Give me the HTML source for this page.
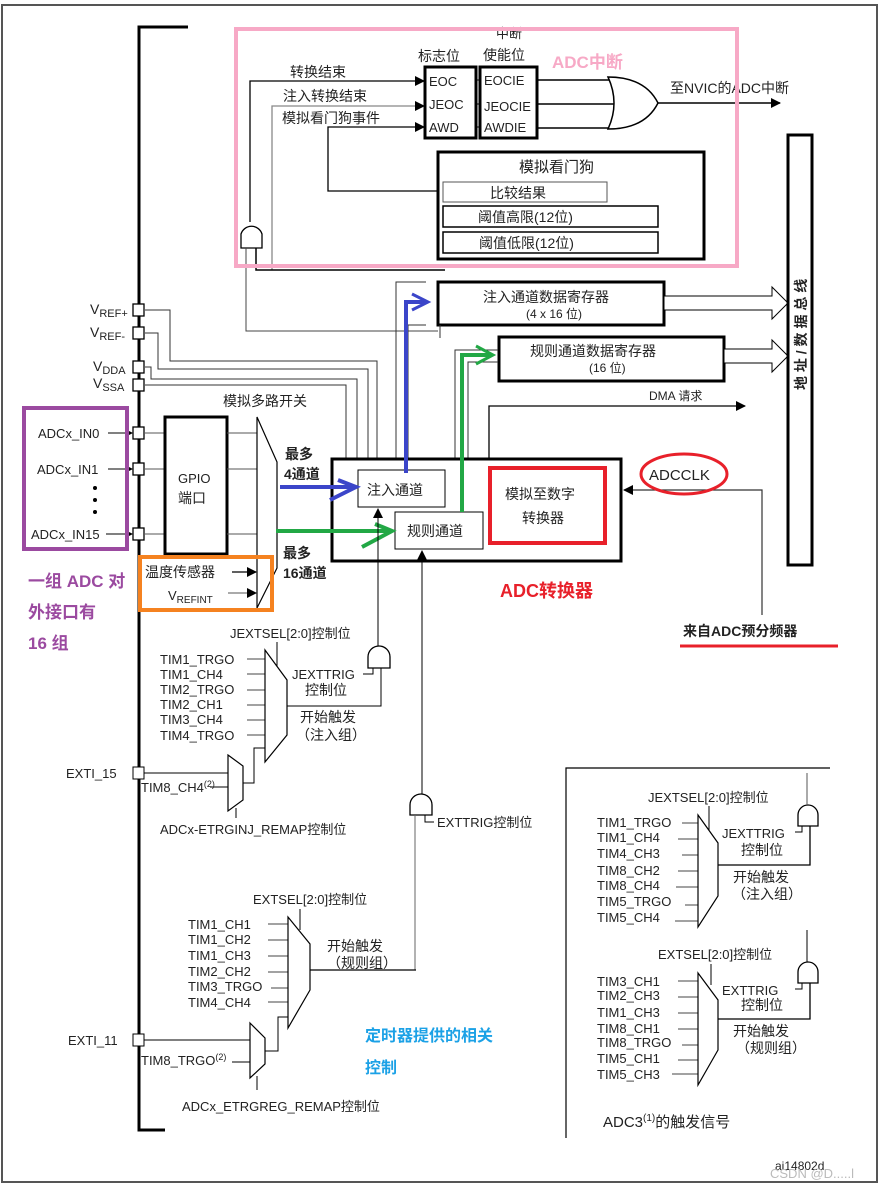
<!DOCTYPE html>
<html><head><meta charset="utf-8"><style>
html,body{margin:0;padding:0;background:#fff}
svg{display:block}
text{font-family:"Liberation Sans","Noto Sans CJK SC",sans-serif;fill:#222}
</style></head><body>
<svg width="880" height="1186" viewBox="0 0 880 1186" xmlns="http://www.w3.org/2000/svg">
<defs>
<marker id="ah" markerWidth="10" markerHeight="10" refX="9" refY="5" orient="auto" markerUnits="userSpaceOnUse"><path d="M0,0 L10,5 L0,10 Z" fill="#000"/></marker>
<marker id="ahs" markerWidth="7" markerHeight="7" refX="6" refY="3.5" orient="auto" markerUnits="userSpaceOnUse"><path d="M0,0 L7,3.5 L0,7 Z" fill="#000"/></marker>
</defs>
<rect x="2" y="5" width="875" height="1177" fill="none" stroke="#555" stroke-width="2"/>

<!-- main bus -->
<path d="M188,27 H139 V1130 H165" fill="none" stroke="#000" stroke-width="3"/>

<!-- interrupt area -->
<rect x="425" y="67" width="51" height="71" fill="#fff" stroke="#000" stroke-width="3"/>
<rect x="480" y="67" width="57" height="71" fill="#fff" stroke="#000" stroke-width="3"/>
<text x="429" y="86" font-size="13">EOC</text>
<text x="429" y="109" font-size="13">JEOC</text>
<text x="429" y="132" font-size="13">AWD</text>
<text x="484" y="85" font-size="13">EOCIE</text>
<text x="484" y="111" font-size="13">JEOCIE</text>
<text x="484" y="132" font-size="13">AWDIE</text>
<path d="M476,80 H480 M476,104 H480 M476,127 H480" stroke="#000"/>
<path d="M537,80 H615 M537,104 H615 M537,128 H612" stroke="#000" stroke-width="1.5"/>
<path d="M608,77 Q645,77 658,103 Q645,129 608,129 Q620,103 608,77 Z" fill="#fff" stroke="#000" stroke-width="1.5"/>
<line x1="658" y1="103" x2="780" y2="103" stroke="#000" stroke-width="1.5" marker-end="url(#ah)"/>
<text x="670" y="93" font-size="14">至NVIC的ADC中断</text>
<text x="418" y="61" font-size="14">标志位</text>
<text x="496" y="38" font-size="13">中断</text>
<text x="483" y="60" font-size="14">使能位</text>

<path d="M250,222 V81 H424" fill="none" stroke="#000" stroke-width="1.3" marker-end="url(#ah)"/>
<path d="M272,270 V106 H424" fill="none" stroke="#888" stroke-width="1.3" marker-end="url(#ah)"/>
<path d="M440,191 H328 V127 H424" fill="none" stroke="#000" stroke-width="1.3" marker-end="url(#ah)"/>
<text x="290" y="77" font-size="14">转换结束</text>
<text x="283" y="101" font-size="14">注入转换结束</text>
<text x="282" y="123" font-size="14">模拟看门狗事件</text>

<rect x="438" y="152" width="266" height="107" fill="#fff" stroke="#000" stroke-width="3"/>
<text x="519" y="172" font-size="15">模拟看门狗</text>
<rect x="443" y="182" width="164" height="20" fill="#fff" stroke="#555"/>
<text x="490" y="198" font-size="14">比较结果</text>
<rect x="443" y="206" width="215" height="21" fill="#fff" stroke="#000" stroke-width="1.5"/>
<text x="478" y="222" font-size="14">阈值高限(12位)</text>
<rect x="443" y="232" width="215" height="21" fill="#fff" stroke="#000" stroke-width="1.5"/>
<text x="479" y="248" font-size="14">阈值低限(12位)</text>

<!-- small AND gate -->
<path d="M241,248 V234 A11,11 0 0 1 262,234 V248 Z" fill="#fff" stroke="#000" stroke-width="1.3"/>
<path d="M246,248 V331 H438" fill="none" stroke="#444"/>
<path d="M256,248 V270 H445" fill="none" stroke="#000" stroke-width="1.5"/>

<rect x="236" y="29" width="501" height="237" fill="none" stroke="#f7a9c6" stroke-width="4"/>
<text x="552" y="68" font-size="17" font-weight="bold" style="fill:#f7a9c6">ADC中断</text>

<!-- data registers -->
<rect x="438" y="282" width="226" height="43" fill="#fff" stroke="#000" stroke-width="3"/>
<text x="483" y="302" font-size="14">注入通道数据寄存器</text>
<text x="526" y="318" font-size="12">(4 x 16 位)</text>
<polygon points="664,296 772,296 772,287 788,303 772,319 772,310 664,310" fill="#fff" stroke="#000"/>
<rect x="499" y="337" width="225" height="44" fill="#fff" stroke="#000" stroke-width="3"/>
<text x="530" y="356" font-size="14">规则通道数据寄存器</text>
<text x="589" y="372" font-size="12">(16 位)</text>
<polygon points="724,349 772,349 772,340 788,356 772,372 772,363 724,363" fill="#fff" stroke="#000"/>
<rect x="788" y="135" width="24" height="430" fill="#fff" stroke="#000" stroke-width="3"/>
<text transform="translate(806,390) rotate(-90)" font-size="14" font-weight="bold">地 址 / 数 据 总 线</text>

<!-- DMA -->
<path d="M489,459 V406 H745" fill="none" stroke="#000" stroke-width="1.3" marker-end="url(#ah)"/>
<text x="649" y="400" font-size="12">DMA 请求</text>

<!-- V pins & wires -->
<g fill="none" stroke="#333" stroke-width="1">
<path d="M145,310 H170 V361 H377 V459"/>
<path d="M145,333 H158 V369 H368 V459"/>
<path d="M145,367 H151 V379 H357 V459"/>
<path d="M145,385 H346 V459"/>
<path d="M426,282 H396 V470"/>
<path d="M426,325 H408 V470"/>
<path d="M498,350 H455 V512"/>
<path d="M498,362 H468 V512"/>
<path d="M440,338 V325"/>
</g>
<g fill="#fff" stroke="#000" stroke-width="1.3">
<rect x="133" y="304" width="11" height="12"/>
<rect x="133" y="327" width="11" height="12"/>
<rect x="133" y="361" width="11" height="12"/>
<rect x="133" y="379" width="11" height="12"/>
<rect x="133" y="427" width="11" height="12"/>
<rect x="133" y="463" width="11" height="12"/>
<rect x="133" y="528" width="11" height="12"/>
</g>
<text x="90" y="314" font-size="14">V<tspan font-size="11" dy="3">REF+</tspan></text>
<text x="90" y="337" font-size="14">V<tspan font-size="11" dy="3">REF-</tspan></text>
<text x="93" y="371" font-size="14">V<tspan font-size="11" dy="3">DDA</tspan></text>
<text x="93" y="388" font-size="14">V<tspan font-size="11" dy="3">SSA</tspan></text>

<!-- inputs -->
<text x="38" y="438" font-size="13">ADCx_IN0</text>
<text x="37" y="474" font-size="13">ADCx_IN1</text>
<text x="31" y="539" font-size="13">ADCx_IN15</text>
<line x1="108" y1="433" x2="132" y2="433" stroke="#000" marker-end="url(#ahs)"/>
<line x1="108" y1="469" x2="132" y2="469" stroke="#000" marker-end="url(#ahs)"/>
<line x1="106" y1="534" x2="132" y2="534" stroke="#000" marker-end="url(#ahs)"/>
<circle cx="95" cy="488" r="2" fill="#000"/><circle cx="95" cy="500" r="2" fill="#000"/><circle cx="95" cy="512" r="2" fill="#000"/>
<path d="M145,433 H165 M145,469 H165 M145,534 H165" stroke="#555"/>
<rect x="165" y="417" width="62" height="137" fill="#fff" stroke="#000" stroke-width="3"/>
<text x="178" y="483" font-size="13">GPIO</text>
<text x="178" y="503" font-size="14">端口</text>
<path d="M227,433 H257 M227,469 H257 M227,534 H257" stroke="#555"/>
<path d="M257,417 L277,462 V568 L257,608 Z" fill="#fff" stroke="#000" stroke-width="1.2"/>
<text x="223" y="406" font-size="14">模拟多路开关</text>
<text x="285" y="459" font-size="14" font-weight="bold">最多</text>
<text x="284" y="479" font-size="14" font-weight="bold">4通道</text>
<text x="283" y="558" font-size="14" font-weight="bold">最多</text>
<text x="283" y="578" font-size="14" font-weight="bold">16通道</text>

<rect x="24" y="408" width="103" height="141" fill="none" stroke="#9b4aa0" stroke-width="4"/>
<text x="28" y="587" font-size="17" font-weight="bold" style="fill:#9b4aa0">一组 ADC 对</text>
<text x="28" y="618" font-size="17" font-weight="bold" style="fill:#9b4aa0">外接口有</text>
<text x="28" y="649" font-size="17" font-weight="bold" style="fill:#9b4aa0">16 组</text>

<text x="145" y="577" font-size="14">温度传感器</text>
<text x="168" y="600" font-size="13">V<tspan font-size="10" dy="3">REFINT</tspan></text>
<line x1="232" y1="572" x2="256" y2="572" stroke="#000" stroke-width="1.3" marker-end="url(#ah)"/>
<line x1="228" y1="593" x2="256" y2="593" stroke="#555" marker-end="url(#ah)"/>
<rect x="140" y="557" width="132" height="53" fill="none" stroke="#f58220" stroke-width="4"/>

<!-- ADC box -->
<rect x="332" y="459" width="289" height="102" fill="#fff" stroke="#000" stroke-width="3"/>
<rect x="358" y="470" width="87" height="37" fill="#fff" stroke="#000"/>
<text x="367" y="495" font-size="14">注入通道</text>
<rect x="395" y="512" width="88" height="37" fill="#fff" stroke="#000"/>
<text x="407" y="536" font-size="14">规则通道</text>
<rect x="490" y="468" width="115" height="75" fill="none" stroke="#e8202a" stroke-width="4"/>
<text x="505" y="499" font-size="14">模拟至数字</text>
<text x="522" y="523" font-size="14">转换器</text>
<text x="500" y="597" font-size="18" font-weight="bold" style="fill:#e8202a">ADC转换器</text>

<!-- blue / green paths -->
<path d="M406,473 V302 H426" fill="none" stroke="#3b45c9" stroke-width="4"/>
<path d="M412,294 L428,302 L412,310" fill="none" stroke="#3b45c9" stroke-width="3"/>
<path d="M280,487 H352" fill="none" stroke="#3b45c9" stroke-width="4"/>
<path d="M338,480 L356,487 L330,500" fill="none" stroke="#3b45c9" stroke-width="4"/>
<path d="M462,512 V355 H490" fill="none" stroke="#22a845" stroke-width="4"/>
<path d="M476,346 L493,355 L476,364" fill="none" stroke="#22a845" stroke-width="3"/>
<path d="M276,531 H390" fill="none" stroke="#22a845" stroke-width="4"/>
<path d="M375,524 L392,531 L362,547" fill="none" stroke="#22a845" stroke-width="4"/>

<!-- ADCCLK -->
<path d="M762,615 V490 H624" fill="none" stroke="#333" stroke-width="1.2" marker-end="url(#ah)"/>
<ellipse cx="684" cy="474" rx="43" ry="20" fill="none" stroke="#e8202a" stroke-width="3"/>
<text x="649" y="480" font-size="15">ADCCLK</text>
<text x="683" y="636" font-size="14" font-weight="bold">来自ADC预分频器</text>
<line x1="680" y1="646" x2="838" y2="646" stroke="#e8202a" stroke-width="3"/>

<!-- JEXTSEL -->
<text x="230" y="638" font-size="13">JEXTSEL[2:0]控制位</text>
<line x1="277" y1="642" x2="277" y2="666" stroke="#000"/>
<g font-size="13">
<text x="160" y="664">TIM1_TRGO</text><text x="160" y="679">TIM1_CH4</text><text x="160" y="694">TIM2_TRGO</text>
<text x="160" y="709">TIM2_CH1</text><text x="160" y="724">TIM3_CH4</text><text x="160" y="740">TIM4_TRGO</text>
</g>
<path d="M247,659 H265 M247,674 H265 M247,690 H265 M247,705 H265 M247,720 H265 M247,735 H265" stroke="#444"/>
<path d="M265,650 L287,680 V735 L265,762 Z" fill="#fff" stroke="#000" stroke-width="1.2"/>
<path d="M287,706 H381 V668" fill="none" stroke="#000"/>
<path d="M368,668 V657 A11,11 0 0 1 390,657 V668 Z" fill="#fff" stroke="#000" stroke-width="1.3"/>
<path d="M363,674 H373 V668" fill="none" stroke="#000"/>
<line x1="378" y1="646" x2="378" y2="509" stroke="#000" marker-end="url(#ah)"/>
<text x="292" y="679" font-size="13">JEXTTRIG</text>
<text x="305" y="695" font-size="14">控制位</text>
<text x="300" y="722" font-size="14">开始触发</text>
<text x="296" y="740" font-size="14">（注入组）</text>

<!-- EXTI_15 -->
<rect x="133" y="767" width="11" height="12" fill="#fff" stroke="#000"/>
<text x="66" y="778" font-size="13">EXTI_15</text>
<path d="M144,773 H228 M210,787 H228" stroke="#000"/>
<path d="M228,755 L243,766 V800 L228,811 Z" fill="#fff" stroke="#000" stroke-width="1.2"/>
<path d="M243,783 H254 V748 H265" fill="none" stroke="#000"/>
<line x1="236" y1="808" x2="236" y2="818" stroke="#000"/>
<text x="141" y="792" font-size="13">TIM8_CH4<tspan font-size="9" dy="-5">(2)</tspan></text>
<text x="160" y="834" font-size="13">ADCx-ETRGINJ_REMAP控制位</text>

<!-- EXTTRIG -->
<path d="M410,815 V805 A11,11 0 0 1 432,805 V815 Z" fill="#fff" stroke="#000" stroke-width="1.3"/>
<line x1="422" y1="794" x2="422" y2="551" stroke="#000" marker-end="url(#ah)"/>
<path d="M425,815 V822 H434" fill="none" stroke="#000"/>
<path d="M415,815 V970" fill="none" stroke="#666"/>
<text x="437" y="827" font-size="13">EXTTRIG控制位</text>

<!-- EXTSEL -->
<text x="253" y="904" font-size="13">EXTSEL[2:0]控制位</text>
<line x1="300" y1="909" x2="300" y2="930" stroke="#000"/>
<g font-size="13">
<text x="188" y="929">TIM1_CH1</text><text x="188" y="944">TIM1_CH2</text><text x="188" y="960">TIM1_CH3</text>
<text x="188" y="976">TIM2_CH2</text><text x="188" y="991">TIM3_TRGO</text><text x="188" y="1007">TIM4_CH4</text>
</g>
<path d="M268,924 H288 M268,940 H288 M268,956 H288 M268,972 H288 M271,988 H288 M268,1002 H288" stroke="#444"/>
<path d="M288,917 L310,944 V990 L288,1028 Z" fill="#fff" stroke="#000" stroke-width="1.2"/>
<path d="M310,970 H416" fill="none" stroke="#000" stroke-width="1.3"/>
<text x="327" y="951" font-size="14">开始触发</text>
<text x="327" y="968" font-size="14">（规则组）</text>

<!-- EXTI_11 -->
<rect x="133" y="1034" width="11" height="12" fill="#fff" stroke="#000"/>
<text x="68" y="1045" font-size="13">EXTI_11</text>
<path d="M144,1040 H250 M232,1062 H250" stroke="#000"/>
<path d="M250,1023 L265,1038 V1064 L250,1078 Z" fill="#fff" stroke="#000" stroke-width="1.2"/>
<path d="M265,1051 H278 V1017 H288" fill="none" stroke="#000"/>
<line x1="257" y1="1076" x2="257" y2="1090" stroke="#000"/>
<text x="141" y="1065" font-size="13">TIM8_TRGO<tspan font-size="9" dy="-5">(2)</tspan></text>
<text x="182" y="1111" font-size="13">ADCx_ETRGREG_REMAP控制位</text>
<text x="365" y="1041" font-size="16" font-weight="bold" style="fill:#1ba1e6">定时器提供的相关</text>
<text x="365" y="1073" font-size="16" font-weight="bold" style="fill:#1ba1e6">控制</text>

<!-- ADC3 panel -->
<path d="M830,768 H566 V1138" fill="none" stroke="#000" stroke-width="1.2"/>
<text x="648" y="802" font-size="13">JEXTSEL[2:0]控制位</text>
<line x1="709" y1="806" x2="709" y2="830" stroke="#000"/>
<g font-size="13">
<text x="597" y="827">TIM1_TRGO</text><text x="597" y="842">TIM1_CH4</text><text x="597" y="858">TIM4_CH3</text>
<text x="597" y="875">TIM8_CH2</text><text x="597" y="890">TIM8_CH4</text><text x="597" y="906">TIM5_TRGO</text>
<text x="597" y="922">TIM5_CH4</text>
</g>
<path d="M682,823 H698 M678,839 H698 M682,855 H698 M678,871 H698 M676,887 H698 M685,905 H698 M675,921 H698" stroke="#444"/>
<path d="M698,815 L718,843 V896 L698,927 Z" fill="#fff" stroke="#000" stroke-width="1.2"/>
<path d="M718,865 H810 V826" fill="none" stroke="#000" stroke-width="1.3"/>
<path d="M798,826 V815 A10,10 0 0 1 818,815 V826 Z" fill="#fff" stroke="#000" stroke-width="1.3"/>
<line x1="807" y1="805" x2="807" y2="773" stroke="#555"/>
<path d="M795,832 H802 V826" fill="none" stroke="#000"/>
<text x="722" y="838" font-size="13">JEXTTRIG</text>
<text x="741" y="855" font-size="14">控制位</text>
<text x="733" y="882" font-size="14">开始触发</text>
<text x="732" y="899" font-size="14">（注入组）</text>

<text x="658" y="959" font-size="13">EXTSEL[2:0]控制位</text>
<line x1="711" y1="964" x2="711" y2="985" stroke="#000"/>
<g font-size="13">
<text x="597" y="986">TIM3_CH1</text><text x="597" y="1000">TIM2_CH3</text><text x="597" y="1017">TIM1_CH3</text>
<text x="597" y="1033">TIM8_CH1</text><text x="597" y="1047">TIM8_TRGO</text><text x="597" y="1063">TIM5_CH1</text>
<text x="597" y="1079">TIM5_CH3</text>
</g>
<path d="M678,981 H698 M678,997 H698 M678,1013 H698 M678,1029 H698 M682,1045 H698 M678,1060 H698 M672,1074 H698" stroke="#444"/>
<path d="M698,973 L718,1000 V1050 L698,1085 Z" fill="#fff" stroke="#000" stroke-width="1.2"/>
<path d="M718,1019 H810 V983" fill="none" stroke="#000" stroke-width="1.3"/>
<path d="M798,983 V972 A10,10 0 0 1 818,972 V983 Z" fill="#fff" stroke="#000" stroke-width="1.3"/>
<line x1="807" y1="962" x2="807" y2="930" stroke="#000"/>
<path d="M795,989 H802 V983" fill="none" stroke="#000"/>
<text x="722" y="995" font-size="13">EXTTRIG</text>
<text x="741" y="1010" font-size="14">控制位</text>
<text x="733" y="1036" font-size="14">开始触发</text>
<text x="736" y="1053" font-size="14">（规则组）</text>
<text x="603" y="1127" font-size="15">ADC3<tspan font-size="10" dy="-6">(1)</tspan><tspan dy="6">的触发信号</tspan></text>
<text x="775" y="1170" font-size="12">ai14802d</text>
<text x="770" y="1178" font-size="13" style="fill:#bbb">CSDN @D.....l</text>
</svg>
</body></html>
